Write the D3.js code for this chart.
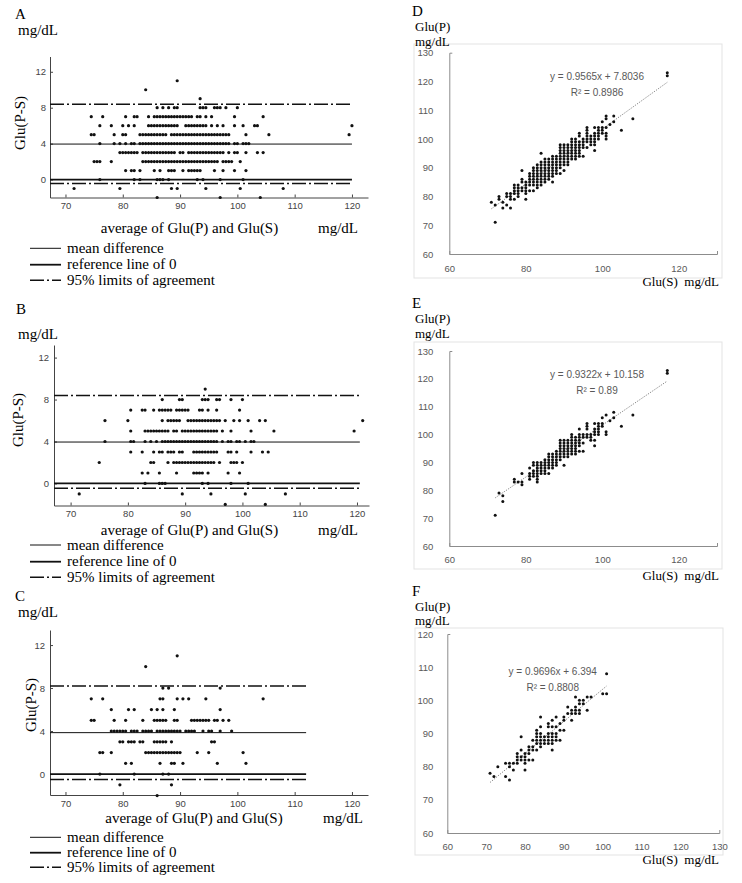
<!DOCTYPE html>
<html>
<head>
<meta charset="utf-8">
<script src="https://cdn.jsdelivr.net/npm/d3@7"></script>
<style>
    body { margin: 0; background: #fff; }
    svg { display: block; }
</style>
</head>
<body>
<div id="plot"></div>
<script>
/* Step 1
 * Values
 */
// =================================
// Bland-Altman panels (A, B, C): one list of averages per difference level
var diffLevels = [11, 10, 9, 8, 7, 6, 5, 4, 3, 2, 1, 0, -1, -2];

var avgA = [
    [89.5],
    [84],
    [93.5],
    [86, 87, 88, 89, 89.5, 93.5, 94, 94.5, 96, 96.5, 97, 98, 100],
    [74.5, 76.5, 80.5, 82, 82.5, 84.5, 85.5, 86, 86.5, 87, 87.5, 88, 88.5, 89, 89.5, 90, 90.5, 91, 91.5, 92, 93, 93.5, 94.5, 95.5, 99.5, 104.5],
    [76, 78, 80, 81, 82, 84.5, 85, 85.5, 86, 86.5, 87, 87.5, 88, 88.5, 89, 89.5, 91, 91.5, 92, 92.5, 93, 93.5, 94, 94.5, 95.5, 96.5, 97.5, 99.5, 101, 103, 103.5, 120],
    [74.5, 75, 78.5, 80, 80.5, 83, 83.5, 84, 84.5, 85, 85.5, 86, 86.5, 87, 87.5, 88.5, 89, 89.5, 90, 90.5, 91, 91.5, 92, 92.5, 93, 93.5, 94, 94.5, 95, 95.5, 96, 96.5, 97, 97.5, 98, 98.5, 101.5, 105.5, 119.5],
    [76, 78.5, 79.5, 80.5, 81.5, 82, 83, 83.5, 84, 84.5, 85, 85.5, 86, 86.5, 87, 87.5, 88, 88.5, 89, 89.5, 90, 90.5, 91, 91.5, 92, 92.5, 93, 93.5, 94, 94.5, 95, 95.5, 96, 96.5, 97, 97.5, 98, 98.5, 99.5, 100, 101, 101.5, 102],
    [79.5, 80, 80.5, 81, 81.5, 82, 82.5, 83.5, 84, 84.5, 85, 85.5, 86, 86.5, 87, 87.5, 88, 88.5, 89, 90, 90.5, 91.5, 92, 92.5, 93, 93.5, 94, 94.5, 95, 95.5, 96, 96.5, 97, 97.5, 98.5, 99.5, 100, 101.5, 103.5, 104.5],
    [75, 75.5, 76, 78, 83.5, 84, 84.5, 85, 85.5, 86, 86.5, 87, 87.5, 88, 88.5, 89, 89.5, 90, 90.5, 91, 91.5, 92, 92.5, 93, 93.5, 94, 94.5, 95, 95.5, 96, 96.5, 97.5, 98, 98.5, 99, 100.5],
    [80.5, 81.5, 82, 83, 85.5, 86.5, 88, 88.5, 89, 90.5, 91.5, 92, 92.5, 93, 93.5, 96, 97.5, 99.5, 101.5],
    [76, 82, 83, 86, 86.5, 87, 88, 93, 94, 97, 101],
    [71.5, 79.5, 88.5, 89.5, 94.5, 100.5, 108],
    [86, 97, 104]
];

var avgB = [
    [],
    [],
    [93.5],
    [86, 89, 89.5, 93, 93.5, 94, 95.5, 96, 98, 100],
    [80.5, 82.5, 83, 84.5, 85.5, 86, 86.5, 87, 87.5, 88.5, 89, 89.5, 90, 90.5, 92.5, 93, 94, 95.5, 99.5],
    [76, 80, 86, 87, 87.5, 88, 88.5, 89, 90.5, 91, 91.5, 92, 92.5, 93, 93.5, 94, 94.5, 95, 95.5, 96, 97, 98.5, 99.5, 101, 103, 104, 121],
    [80.5, 83, 83.5, 84, 84.5, 85, 85.5, 86, 86.5, 87, 88, 88.5, 89.5, 90, 90.5, 91, 91.5, 92, 92.5, 93, 93.5, 94, 94.5, 95, 95.5, 96.5, 98, 101.5, 105.5, 119.5],
    [76, 80.5, 81, 83, 84, 85, 86, 86.5, 87, 87.5, 88, 88.5, 89, 89.5, 90, 90.5, 91, 91.5, 92, 92.5, 93, 93.5, 94, 94.5, 95, 95.5, 96.5, 97.5, 98, 99, 99.5, 100.5, 101.5, 102],
    [80.5, 82.5, 84.5, 85.5, 86, 87, 87.5, 88, 89, 89.5, 91.5, 92, 92.5, 93, 93.5, 94, 94.5, 95, 95.5, 97.5, 98, 99, 101.5, 103.5, 104.5],
    [75, 84, 84.5, 87, 88, 88.5, 89, 89.5, 90, 90.5, 91, 91.5, 92, 92.5, 93, 93.5, 94, 94.5, 95, 96, 98, 98.5, 99, 100],
    [82.5, 83.5, 85.5, 88.5, 91.5, 92, 92.5, 93, 94, 97.5, 99.5],
    [83, 85.5, 86, 86.5, 93, 94, 98, 101],
    [71.5, 89.5, 94.5, 100.5, 107.5],
    [97, 104]
];

var avgC = [
    [89.5],
    [84],
    [],
    [87, 88, 97],
    [74.5, 76.5, 86.5, 87, 89.5, 90.5, 91.5, 94.5, 104.5],
    [78, 81, 82, 85, 86, 87, 89, 97],
    [74.5, 75, 78.5, 80.5, 83.5, 85.5, 86, 86.5, 87, 87.5, 89, 89.5, 92, 92.5, 93, 93.5, 94, 94.5, 95, 96, 96.5, 97.5, 98.5],
    [78, 78.5, 79, 79.5, 80, 80.5, 81.5, 82, 82.5, 83.5, 84, 84.5, 85, 86, 86.5, 87, 87.5, 88, 88.5, 89, 89.5, 90, 91, 91.5, 92, 92.5, 94, 95, 95.5, 97, 99],
    [79.5, 80, 81, 81.5, 82, 83, 83.5, 85.5, 86, 86.5, 87, 87.5, 88.5, 95.5, 96],
    [76, 76.5, 78, 84, 84.5, 85, 85.5, 86, 86.5, 87, 87.5, 88, 88.5, 89, 89.5, 90, 93, 95, 101],
    [80.5, 81.5, 86.5, 88.5, 89, 90.5, 96.5, 101.5],
    [76, 82, 87, 88],
    [79.5, 88.5],
    [86]
];

// mean difference and 95% limits of agreement for A, B, C
var meanDiff = [3.95, 3.95, 3.85];
var upperLoA = [8.38, 8.38, 8.2];
var lowerLoA = [-0.45, -0.45, -0.5];
// right end of the horizontal lines (mg/dL)
var lineEnd = [120, 120.5, 112];

var baXTicks = [70, 80, 90, 100, 110, 120];
var baYTicks = [0, 4, 8, 12];
var legendLabels = ["mean difference", "reference line of 0", "95% limits of agreement"];

// Scatter panels (D, E, F): Glu(S) columns and the Glu(P) values in each column
var serumD = [71, 72, 73, 74, 75, 76, 77, 78, 79, 80, 81, 82, 83, 84, 85, 86, 87, 88, 89, 90, 91, 92, 93, 94, 95, 96, 97, 98, 99, 100, 101, 102, 103, 105, 108, 117];
var plasmaD = [
    [78], [71, 77], [79, 80], [76, 78], [77, 80, 81], [76, 79, 80, 81],
    [79, 81, 82, 83, 84], [80, 81, 82, 83, 84], [82, 83, 85, 86, 89],
    [79, 81, 82, 83, 84, 85], [82, 84, 85, 86, 87, 88],
    [82, 84, 85, 86, 87, 88, 89, 90], [83, 84, 85, 86, 87, 88, 89, 90, 91],
    [84, 85, 86, 87, 88, 89, 90, 91, 92, 95], [85, 86, 87, 88, 89, 90, 91, 92, 93],
    [86, 87, 88, 89, 90, 91, 92, 93], [85, 87, 88, 89, 90, 91, 92, 93, 94],
    [88, 89, 90, 91, 92, 93, 94], [88, 90, 91, 92, 93, 94, 95, 96, 97, 98],
    [89, 91, 92, 93, 94, 95, 96, 97, 98], [91, 92, 93, 94, 95, 96, 97, 98],
    [93, 94, 95, 96, 97, 98, 99, 100], [93, 94, 95, 96, 97, 98, 99, 100],
    [94, 95, 96, 97, 98, 99, 101, 102], [94, 97, 98, 99, 100],
    [97, 99, 100, 101, 102, 103, 104], [98, 99, 100, 101],
    [96, 98, 99, 100, 101, 102, 104], [100, 101, 102, 103, 104],
    [102, 103, 104, 106], [100, 101, 102, 104, 107, 108], [105], [106, 108],
    [103], [107], [122, 123]
];

var serumE = [72, 73, 74, 77, 78, 79, 81, 82, 83, 84, 85, 86, 87, 88, 89, 90, 91, 92, 93, 94, 95, 96, 97, 98, 99, 100, 101, 102, 103, 105, 108, 117];
var plasmaE = [
    [71], [79], [76, 78], [83, 84], [83], [82, 83, 86],
    [84, 85, 86, 88], [85, 86, 87, 89, 90], [83, 84, 85, 86, 87, 88, 89, 90],
    [86, 87, 88, 89, 90], [86, 87, 88, 89, 90, 91], [86, 88, 89, 90, 91, 92, 93],
    [88, 89, 90, 91, 92, 93], [89, 90, 91, 92, 93, 94],
    [91, 92, 93, 94, 95, 96, 97, 98], [89, 92, 93, 94, 95, 96, 97, 98],
    [92, 93, 94, 95, 96, 97, 98], [93, 94, 95, 96, 97, 98, 99, 100],
    [93, 94, 95, 96, 97, 98, 99], [94, 96, 97, 98, 99, 100, 102],
    [94, 97, 99, 100], [99, 100, 102, 103, 104], [98, 99, 100],
    [96, 98, 100, 101, 102, 104], [100, 101, 102, 103, 104],
    [103, 104, 106], [100, 101, 107], [105], [106, 108], [103], [107], [122, 123]
];

var serumF = [71, 72, 73, 75, 76, 77, 78, 79, 80, 81, 82, 83, 84, 85, 86, 87, 88, 89, 90, 91, 92, 93, 94, 95, 96, 97, 100, 101];
var plasmaF = [
    [78], [77], [80], [77, 81], [76, 80, 81], [79, 81], [81, 82, 83, 84],
    [82, 83, 85, 89], [79, 81, 82, 83, 84], [82, 84, 85, 86], [82, 85, 86, 88],
    [85, 87, 88, 89, 90, 91], [86, 87, 88, 89, 90, 92, 95], [87, 88, 89],
    [87, 88, 89, 90, 92, 93], [85, 87, 88, 89, 90, 92, 94], [88, 89, 90, 92, 95],
    [88, 91, 93], [91, 94, 95], [96, 98], [94, 96, 97], [96, 97, 98, 101],
    [96, 97, 99, 100], [99, 100], [97, 101], [101], [102], [102, 108]
];

// linear fits printed on D, E, F
var fitSlope = [0.9565, 0.9322, 0.9696];
var fitIntercept = [7.8036, 10.158, 6.394];
var fitR2 = ["0.8986", "0.89", "0.8808"];
var fitFrom = [71, 72, 71];
var fitTo = [117, 117, 101];

var scXTicksDE = [60, 80, 100, 120];
var scYTicksDE = [60, 70, 80, 90, 100, 110, 120, 130];
var scXTicksF = [60, 70, 80, 90, 100, 110, 120, 130];
var scYTicksF = [60, 70, 80, 90, 100, 110, 120];


/* Step 2
 * Workspace
 */
// =================================
var svgWidth = 742;
var svgHeight = 883;
var serif = "'Liberation Serif', 'Times New Roman', serif";
var sans = "'Liberation Sans', Arial, sans-serif";

var svg = d3.select("#plot")
    .append("svg")
    .attr("width", svgWidth)
    .attr("height", svgHeight);


/* Step 3
 * Bland-Altman panel
 */
// =================================
function drawBA(i, avgs, p) {
    var g = svg.append("g");

    var xScale = d3.scaleLinear().domain(p.xDomain).range(p.xRange);
    var yScale = d3.scaleLinear().domain(p.yDomain).range(p.yRange);

    var points = [];
    diffLevels.forEach(function (d, k) {
        avgs[k].forEach(function (a) { points.push({ avg: a, diff: d }); });
    });

    // axes
    var xAxis = g.append("g")
        .attr("transform", `translate(0, ${p.yRange[0]})`)
        .call(d3.axisBottom(xScale).tickValues(baXTicks).tickSizeInner(-3).tickSizeOuter(0).tickPadding(5));
    var yAxis = g.append("g")
        .attr("transform", `translate(${p.xRange[0]}, 0)`)
        .call(d3.axisLeft(yScale).tickValues(baYTicks).tickSizeInner(-3).tickSizeOuter(0).tickPadding(p.yPad));
    [xAxis, yAxis].forEach(function (a) {
        a.selectAll("path, line").attr("stroke", "#444");
        a.selectAll("text").attr("font-family", sans).attr("font-size", "9.5px").attr("fill", "#444");
    });

    // reference lines
    var x0 = p.xRange[0];
    var x1 = xScale(lineEnd[i]);
    g.append("line")
        .attr("x1", x0).attr("x2", x1)
        .attr("y1", yScale(meanDiff[i])).attr("y2", yScale(meanDiff[i]))
        .attr("stroke", "#111").attr("stroke-width", 1);
    g.append("line")
        .attr("x1", x0).attr("x2", x1)
        .attr("y1", yScale(0)).attr("y2", yScale(0))
        .attr("stroke", "#111").attr("stroke-width", 1.8);
    [upperLoA[i], lowerLoA[i]].forEach(function (v) {
        g.append("line")
            .attr("x1", x0).attr("x2", x1)
            .attr("y1", yScale(v)).attr("y2", yScale(v))
            .attr("stroke", "#111").attr("stroke-width", 1.5)
            .attr("stroke-dasharray", "14,3,2,3");
    });

    // dots
    g.selectAll("circle")
        .data(points)
        .enter()
        .append("circle")
        .attr("cx", d => xScale(d.avg))
        .attr("cy", d => yScale(d.diff))
        .attr("r", 1.6)
        .attr("fill", "#111");

    // texts
    g.append("text").attr("x", p.letterX).attr("y", p.letterY)
        .attr("font-family", serif).attr("font-size", "15px").text(p.letter);
    g.append("text").attr("x", 18).attr("y", p.unitY)
        .attr("font-family", serif).attr("font-size", "15px").text("mg/dL");
    g.append("text")
        .attr("transform", `translate(${p.yLabelX}, ${p.yLabelY}) rotate(-90)`)
        .attr("text-anchor", "middle")
        .attr("font-family", serif).attr("font-size", "15px").text("Glu(P-S)");
    g.append("text").attr("x", p.xTitleX).attr("y", p.xTitleY)
        .attr("text-anchor", "middle")
        .attr("font-family", serif).attr("font-size", "15px").text("average of Glu(P) and Glu(S)");
    g.append("text").attr("x", p.xUnitX).attr("y", p.xTitleY)
        .attr("font-family", serif).attr("font-size", "15px").text("mg/dL");

    // legend
    var dashes = [null, null, "14,3,2,3"];
    var widths = [1, 1.8, 1.5];
    legendLabels.forEach(function (label, k) {
        var ly = p.legendY[k];
        g.append("line")
            .attr("x1", 30).attr("x2", 61)
            .attr("y1", ly).attr("y2", ly)
            .attr("stroke", "#111").attr("stroke-width", widths[k])
            .attr("stroke-dasharray", dashes[k]);
        g.append("text").attr("x", 67).attr("y", ly + 4.5)
            .attr("font-family", serif).attr("font-size", "15px").text(label);
    });
}

drawBA(0, avgA, {
    letter: "A", letterX: 15, letterY: 18.5, unitY: 35,
    xDomain: [67.3, 122.8], xRange: [50, 368],
    yDomain: [-2, 13.7], yRange: [197.5, 56.5], yPad: 4,
    yLabelX: 25, yLabelY: 123,
    xTitleX: 189.5, xTitleY: 233, xUnitX: 318,
    legendY: [248.3, 264.7, 280.3]
});
drawBA(1, avgB, {
    letter: "B", letterX: 16, letterY: 314, unitY: 338.5,
    xDomain: [67.1, 122.1], xRange: [54, 369],
    yDomain: [-2.1, 13.2], yRange: [505.5, 345], yPad: 5,
    yLabelX: 23, yLabelY: 420,
    xTitleX: 189.5, xTitleY: 535, xUnitX: 318,
    legendY: [545, 561.7, 577.3]
});
drawBA(2, avgC, {
    letter: "C", letterX: 15, letterY: 600.5, unitY: 617,
    xDomain: [67.3, 122.8], xRange: [50, 368],
    yDomain: [-1.95, 13.4], yRange: [795, 630], yPad: 5,
    yLabelX: 36, yLabelY: 705,
    xTitleX: 194, xTitleY: 823, xUnitX: 323,
    legendY: [837.3, 852.7, 867.3]
});


/* Step 4
 * Scatter panel with linear fit
 */
// =================================
function drawScatter(i, serum, plasma, p) {
    var g = svg.append("g");

    // light frame around the plot
    g.append("rect")
        .attr("x", p.box[0]).attr("y", p.box[1])
        .attr("width", p.box[2] - p.box[0]).attr("height", p.box[3] - p.box[1])
        .attr("fill", "none").attr("stroke", "#e3e3e3");

    var xScale = d3.scaleLinear().domain([60, 130]).range(p.xRange);
    var yScale = d3.scaleLinear().domain(p.yDomain).range(p.yRange);

    var points = [];
    serum.forEach(function (s, k) {
        plasma[k].forEach(function (v) { points.push({ s: s, p: v }); });
    });

    var xAxis = g.append("g")
        .attr("transform", `translate(0, ${p.yRange[0]})`)
        .call(d3.axisBottom(xScale).tickValues(p.xTicks).tickSizeInner(0).tickSizeOuter(-3).tickPadding(p.xPad));
    var yAxis = g.append("g")
        .attr("transform", `translate(${p.xRange[0]}, 0)`)
        .call(d3.axisLeft(yScale).tickValues(p.yTicks).tickSizeInner(0).tickSizeOuter(-3).tickPadding(p.yPad));
    [xAxis, yAxis].forEach(function (a) {
        a.selectAll("path, line").attr("stroke", "#8c8c8c");
        a.selectAll("text").attr("font-family", sans).attr("font-size", "9.5px").attr("fill", "#595959");
    });

    // fitted line
    var fit = d => fitSlope[i] * d + fitIntercept[i];
    g.append("line")
        .attr("x1", xScale(fitFrom[i])).attr("y1", yScale(fit(fitFrom[i])))
        .attr("x2", xScale(fitTo[i])).attr("y2", yScale(fit(fitTo[i])))
        .attr("stroke", "#8a8a8a").attr("stroke-width", 1)
        .attr("stroke-dasharray", "1.3,1.3");

    g.selectAll("circle")
        .data(points)
        .enter()
        .append("circle")
        .attr("cx", d => xScale(d.s))
        .attr("cy", d => yScale(d.p))
        .attr("r", 1.5)
        .attr("fill", "#111");

    g.append("text").attr("x", p.eqX).attr("y", p.eqY)
        .attr("text-anchor", "middle")
        .attr("font-family", sans).attr("font-size", "10px").attr("fill", "#595959")
        .text(`y = ${fitSlope[i]}x + ${fitIntercept[i]}`);
    g.append("text").attr("x", p.eqX).attr("y", p.eqY + 16)
        .attr("text-anchor", "middle")
        .attr("font-family", sans).attr("font-size", "10px").attr("fill", "#595959")
        .text(`R² = ${fitR2[i]}`);

    g.append("text").attr("x", 412).attr("y", p.letterY)
        .attr("font-family", serif).attr("font-size", "15px").text(p.letter);
    g.append("text").attr("x", 415).attr("y", p.letterY + 15)
        .attr("font-family", serif).attr("font-size", "13px").text("Glu(P)");
    g.append("text").attr("x", 415).attr("y", p.letterY + 29.5)
        .attr("font-family", serif).attr("font-size", "13px").text("mg/dL");
    g.append("text").attr("x", 719).attr("y", p.sTitleY)
        .attr("text-anchor", "end")
        .attr("font-family", serif).attr("font-size", "13px")
        .attr("xml:space", "preserve").style("white-space", "pre")
        .text("Glu(S)  mg/dL");
}

drawScatter(0, serumD, plasmaD, {
    letter: "D", letterY: 16, box: [414, 44, 722, 278],
    xRange: [449.3, 717], yDomain: [60, 130], yRange: [254, 52.7],
    xTicks: scXTicksDE, yTicks: scYTicksDE, xPad: 11, yPad: 16,
    eqX: 597, eqY: 79.5, sTitleY: 286
});
drawScatter(1, serumE, plasmaE, {
    letter: "E", letterY: 308, box: [414, 342, 722, 569],
    xRange: [449.3, 717], yDomain: [60, 130], yRange: [546, 351],
    xTicks: scXTicksDE, yTicks: scYTicksDE, xPad: 10, yPad: 16,
    eqX: 597, eqY: 377.5, sTitleY: 580
});
drawScatter(2, serumF, plasmaF, {
    letter: "F", letterY: 595.5, box: [415, 628, 723, 855],
    xRange: [447.3, 719.3], yDomain: [60, 120], yRange: [833, 634],
    xTicks: scXTicksF, yTicks: scYTicksF, xPad: 10, yPad: 14,
    eqX: 552.7, eqY: 675, sTitleY: 864
});
</script>
</body>
</html>
